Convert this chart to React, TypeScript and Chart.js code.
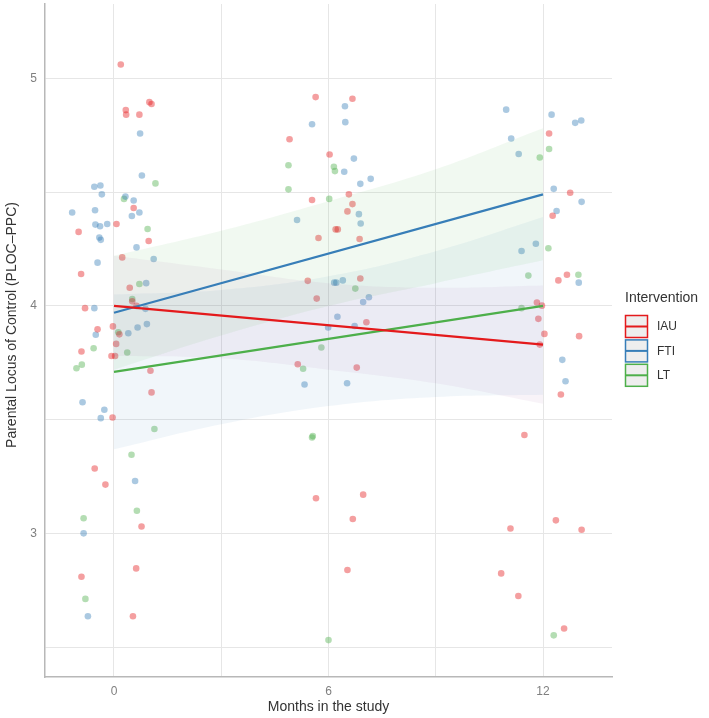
import React, { useEffect, useRef } from "react";
import { Chart, registerables } from "chart.js";

Chart.register(...registerables);

const FONT = '"Liberation Sans", Arial, Helvetica, sans-serif';

const groups = ["IAU", "FTI", "LT"];
const lineColors = ["#E41A1C", "#377EB8", "#4DAF4A"];
const pointColors = ["rgba(228,26,28,0.42)", "rgba(55,126,184,0.42)", "rgba(77,175,74,0.42)"];
const bandColors = ["rgba(160,80,150,0.07)", "rgba(77,175,74,0.08)", "rgba(55,126,184,0.07)"];

const xTicks = [0, 3, 6, 9, 12];
const xTickLabels = ["0", "", "6", "", "12"];
const yTicks = [2.5, 3, 3.5, 4, 4.5, 5];
const yTickLabels = ["", "3", "", "4", "", "5"];

// IAU (red) jittered observations
const iauX = [
  0.19, 0.33, 0.34, 0.71, 0.99, 1.05, -0.99, -0.92, -0.81, 0.07, 0.55, 0.97, 0.23, 0.44, 0.51, 0.63,
  -0.46, -0.03, 0.06, -0.91, -0.07, 0.03, 0.15, 1.02, 1.05, -0.04, -0.54, -0.24, 0.77, 0.62, -0.91, 0.53,
  5.64, 6.67, 6.03, 4.91, 5.54, 6.57, 6.67, 6.53, 6.2, 6.26, 5.72, 6.87, 5.42, 6.89, 5.67, 7.06,
  5.14, 6.79, 5.65, 6.68, 6.53, 6.97,
  12.17, 12.76, 12.27, 12.43, 12.67, 11.83, 11.97, 11.87, 12.04, 13.01, 11.91, 12.5, 11.48, 11.09, 12.36, 13.08,
  10.83, 11.31, 12.59,
];
const iauY = [
  5.06, 4.86, 4.84, 4.84, 4.895, 4.887, 4.325, 4.14, 3.99, 4.36, 4.43, 4.285, 4.213, 4.08, 4.02, 4.0,
  3.897, 3.91, 3.833, 3.8, 3.78, 3.78, 3.875, 3.715, 3.62, 3.51, 3.286, 3.215, 3.031, 2.847, 2.81, 2.637,
  4.917, 4.91, 4.665, 4.732, 4.465, 4.49, 4.447, 4.415, 4.336, 4.336, 4.298, 4.294, 4.11, 4.12, 4.032, 3.928,
  3.744, 3.729, 3.155, 3.064, 2.84, 3.171,
  4.757, 4.497, 4.396, 4.112, 4.137, 4.015, 4.001, 3.943, 3.877, 3.867, 3.83, 3.611, 3.433, 3.022, 3.058, 3.017,
  2.825, 2.726, 2.583,
];

// FTI (blue) jittered observations
const ftiX = [
  0.73, 0.78, -0.55, -0.38, -0.34, -1.17, -0.53, 0.32, 0.55, 0.71, 0.5, -0.52, -0.39, -0.19, -0.41, -0.37,
  0.63, 1.11, -0.46, 0.9, -0.55, 0.88, 0.92, 0.66, 0.4, -0.51, -0.88, -0.27, -0.37, 0.59, -0.85, -0.73,
  6.46, 5.54, 6.47, 6.71, 6.44, 6.89, 7.18, 6.85, 6.9, 5.12, 6.16, 6.22, 6.4, 6.97, 7.13, 6.25,
  5.99, 6.73, 5.33, 6.52,
  10.97, 12.24, 12.9, 13.07, 11.11, 11.32, 12.3, 13.08, 12.38, 11.8, 11.4, 13.0, 12.54, 12.63,
];
const ftiY = [
  4.757, 4.573, 4.523, 4.529, 4.49, 4.41, 4.42, 4.48, 4.463, 4.41, 4.395, 4.357, 4.35, 4.36, 4.3, 4.29,
  4.257, 4.206, 4.19, 4.1, 3.99, 3.987, 3.92, 3.905, 3.88, 3.873, 3.577, 3.544, 3.507, 3.231, 3.001, 2.637,
  4.877, 4.798, 4.807, 4.647, 4.589, 4.536, 4.558, 4.403, 4.362, 4.377, 4.102, 4.102, 4.112, 4.017, 4.038, 3.952,
  3.905, 3.912, 3.655, 3.66,
  4.862, 4.84, 4.804, 4.814, 4.735, 4.667, 4.514, 4.457, 4.417, 4.273, 4.241, 4.102, 3.763, 3.669,
];

// LT (green) jittered observations
const ltX = [
  1.16, 0.28, 0.94, 0.71, 0.51, 0.12, -0.57, 0.37, -1.05, -0.9, 1.13, 0.49, 0.64, -0.85, -0.8,
  4.88, 4.88, 6.15, 6.18, 6.02, 6.75, 5.8, 5.29, 5.54, 5.56, 6.0,
  12.17, 11.91, 12.15, 11.59, 12.99, 11.4, 12.3,
];
const ltY = [
  4.538, 4.47, 4.338, 4.096, 4.03, 3.884, 3.814, 3.795, 3.726, 3.742, 3.459, 3.346, 3.1, 3.067, 2.713,
  4.618, 4.512, 4.611, 4.592, 4.47, 4.076, 3.817, 3.724, 3.422, 3.428, 2.532,
  4.689, 4.652, 4.253, 4.133, 4.137, 3.99, 2.553,
];

// fitted lines
const fitX = [0, 12];
const iauFit = [4.0, 3.83];
const ftiFit = [3.97, 4.49];
const ltFit = [3.71, 4.0];

// confidence bands
const bandX = [0, 3, 6, 9, 12];
const iauUpper = [4.22, 4.16, 4.1, 4.08, 4.09];
const iauLower = [3.78, 3.77, 3.72, 3.66, 3.57];
const ftiUpper = [4.22, 4.33, 4.46, 4.6, 4.78];
const ftiLower = [3.72, 3.87, 4.0, 4.1, 4.2];
const ltUpper = [4.05, 4.07, 4.13, 4.24, 4.39];
const ltLower = [3.37, 3.48, 3.56, 3.6, 3.61];

const zip = (xs: number[], ys: number[]) => xs.map((x, i) => ({ x, y: ys[i] }));

const overlayPlugin = {
  id: "overlay",
  afterDraw(chart: any) {
    const ctx = chart.ctx as CanvasRenderingContext2D;
    const area = chart.chartArea;
    ctx.save();
    ctx.fillStyle = "#333333";
    ctx.font = `14px ${FONT}`;
    ctx.textAlign = "center";
    ctx.textBaseline = "middle";
    ctx.fillText("Months in the study", (area.left + area.right) / 2, 707);
    ctx.save();
    ctx.translate(12, 325);
    ctx.rotate(-Math.PI / 2);
    ctx.fillText("Parental Locus of Control (PLOC\u2013PPC)", 0, 0);
    ctx.restore();

    // legend
    ctx.textAlign = "left";
    ctx.fillText("Intervention", 625, 298);
    ctx.font = `12px ${FONT}`;
    groups.forEach((g, i) => {
      const y0 = 315 + i * 24.4;
      ctx.fillStyle = "#eeeeee";
      ctx.fillRect(625, y0, 23, 23);
      ctx.strokeStyle = lineColors[i];
      ctx.lineWidth = 1.5;
      ctx.strokeRect(625.5, y0 + 0.5, 22, 22);
      ctx.lineWidth = 2;
      ctx.beginPath();
      ctx.moveTo(625, y0 + 11.5);
      ctx.lineTo(648, y0 + 11.5);
      ctx.stroke();
      ctx.fillStyle = "#333333";
      ctx.fillText(g, 657, y0 + 12);
    });
    ctx.restore();
  },
};

export default function App() {
  const ref = useRef<HTMLCanvasElement | null>(null);

  useEffect(() => {
    if (!ref.current) return;
    const series = [
      { x: iauX, y: iauY },
      { x: ftiX, y: ftiY },
      { x: ltX, y: ltY },
    ];
    const fits = [iauFit, ftiFit, ltFit];
    const bands = [
      [iauUpper, iauLower],
      [ftiUpper, ftiLower],
      [ltUpper, ltLower],
    ];
    const datasets: any[] = [];
    series.forEach((s, i) => {
      datasets.push({
        type: "scatter",
        label: groups[i] + " points",
        data: zip(s.x, s.y),
        backgroundColor: pointColors[i],
        borderWidth: 0,
        pointRadius: 3.3,
        order: 3,
      });
    });
    bands.forEach((b, i) => {
      datasets.push({
        type: "line",
        label: groups[i] + " upper",
        data: zip(bandX, b[0]),
        borderWidth: 0,
        borderColor: "rgba(0,0,0,0)",
        pointRadius: 0,
        fill: "+1",
        backgroundColor: bandColors[i],
        tension: 0.4,
        order: 2,
      });
      datasets.push({
        type: "line",
        label: groups[i] + " lower",
        data: zip(bandX, b[1]),
        borderWidth: 0,
        borderColor: "rgba(0,0,0,0)",
        pointRadius: 0,
        fill: false,
        tension: 0.4,
        order: 2,
      });
    });
    fits.forEach((f, i) => {
      datasets.push({
        type: "line",
        label: groups[i],
        data: zip(fitX, f),
        borderColor: lineColors[i],
        borderWidth: 2.2,
        pointRadius: 0,
        fill: false,
        order: 1,
      });
    });

    const chart = new Chart(ref.current, {
      type: "scatter",
      data: { datasets },
      options: {
        animation: false,
        responsive: false,
        layout: { padding: { top: 2, right: 97, left: 0, bottom: 0 } },
        plugins: { legend: { display: false }, tooltip: { enabled: false } },
        scales: {
          x: {
            type: "linear",
            min: -1.93,
            max: 13.93,
            afterBuildTicks: (s: any) => {
              s.ticks = xTicks.map((v) => ({ value: v }));
            },
            afterFit: (s: any) => {
              s.height = 41;
              s.paddingLeft = 0;
              s.paddingRight = 0;
              s.paddingTop = 0;
              s.paddingBottom = 0;
            },
            ticks: {
              callback: (v: any) => xTickLabels[xTicks.indexOf(Number(v))] ?? "",
              color: "#7f7f7f",
              font: { size: 12, family: FONT },
              padding: 7,
              maxRotation: 0,
              autoSkip: false,
            },
            grid: { color: "#e6e6e6", drawTicks: false, lineWidth: 1 },
            border: { display: true, color: "#b8b8b8", width: 1.5 },
          },
          y: {
            type: "linear",
            min: 2.37,
            max: 5.326,
            afterBuildTicks: (s: any) => {
              s.ticks = yTicks.map((v) => ({ value: v }));
            },
            afterFit: (s: any) => {
              s.width = 45;
              s.paddingLeft = 0;
              s.paddingRight = 0;
              s.paddingTop = 0;
              s.paddingBottom = 0;
            },
            ticks: {
              callback: (v: any) => yTickLabels[yTicks.indexOf(Number(v))] ?? "",
              color: "#7f7f7f",
              font: { size: 12, family: FONT },
              padding: 8,
              autoSkip: false,
            },
            grid: { color: "#e6e6e6", drawTicks: false, lineWidth: 1 },
            border: { display: true, color: "#b8b8b8", width: 1.5 },
          },
        },
      },
      plugins: [overlayPlugin],
    });
    return () => chart.destroy();
  }, []);

  return (
    <div style={{ position: "absolute", left: 0, top: 0, width: 709, height: 718, background: "#ffffff" }}>
      <canvas ref={ref} width={709} height={718} style={{ width: 709, height: 718 }} />
    </div>
  );
}
